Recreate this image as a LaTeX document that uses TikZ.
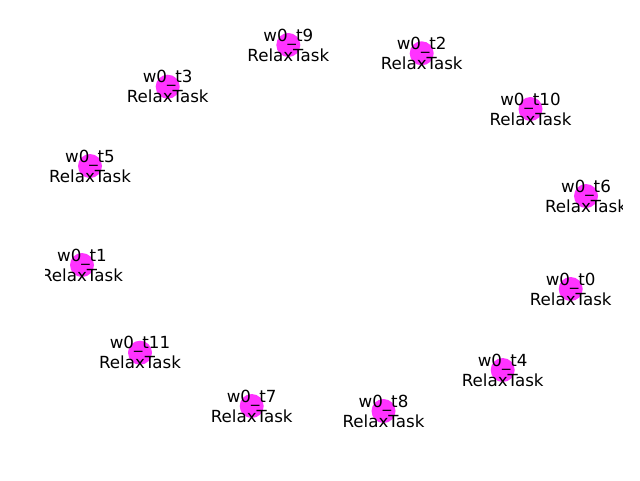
\documentclass[tikz,border=0pt]{standalone}
\usepackage{fontspec}
\setmainfont{DejaVu Sans}
\definecolor{taskpink}{rgb}{1,0.2,1}
\begin{document}
\begin{tikzpicture}[x=1pt,y=-1pt,
  task/.style={circle,fill=taskpink,minimum size=24pt,inner sep=0pt},
  tasklabel/.style={align=center,font=\fontsize{16.67}{20}\selectfont,inner sep=0pt}]
\useasboundingbox (0,0) rectangle (640,480);
% task nodes
\foreach \n/\x/\y in {0/570.7/289,1/82/265,2/421.7/53.3,3/167.7/86.7,4/502.7/370,5/90/166,
	6/586/196,7/251.7/406,8/383.5/411,9/288.3/45,10/530.5/109,11/140/352.7} {
	\node[task] (t\n) at (\x,\y) {};
}
% labels, cut at the plot edges
\begin{scope}
\clip (45,0) rectangle (622,480);
\foreach \n in {0,1,...,11} {
	\node[tasklabel] (l\n) at (t\n) {w0\_t\n\\RelaxTask};
}
\end{scope}
\end{tikzpicture}
\end{document}
